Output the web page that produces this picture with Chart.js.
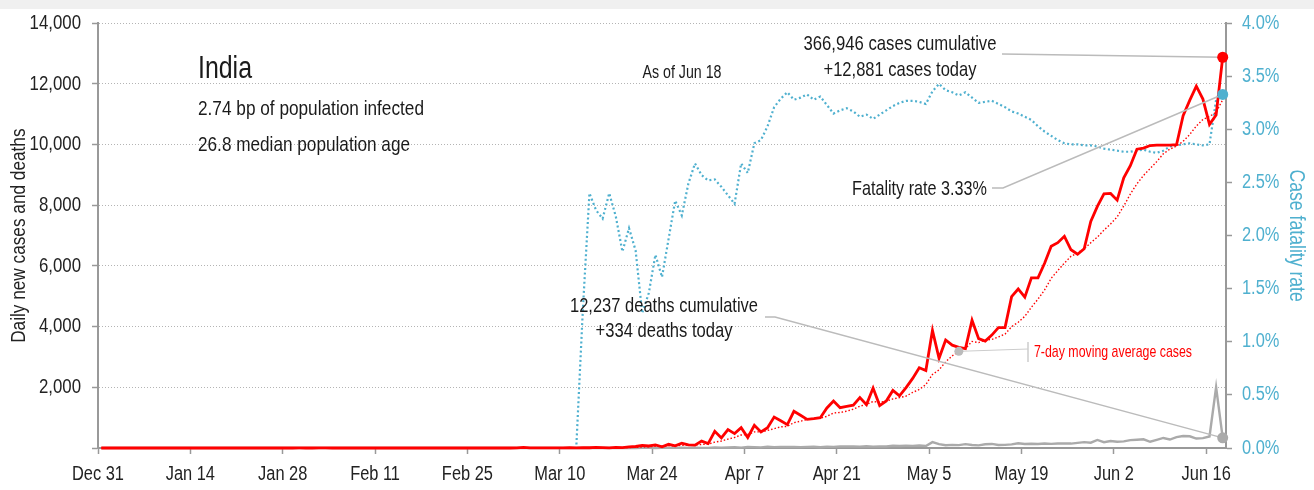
<!DOCTYPE html>
<html>
<head>
<meta charset="utf-8">
<script src="https://cdn.jsdelivr.net/npm/chart.js@4"></script>
<style>
  html, body { margin: 0; padding: 0; background: #fff; }
  #wrap { width: 1314px; height: 490px; }
</style>
</head>
<body>
<div id="wrap"><canvas id="chart" width="1314" height="490"></canvas></div>
<script>
// one value per day, starting Dec 31
const tickLabels = ["Dec 31", "Jan 14", "Jan 28", "Feb 11", "Feb 25", "Mar 10", "Mar 24",
  "Apr 7", "Apr 21", "May 5", "May 19", "Jun 2", "Jun 16"];

const cases = [
  0,
  0,0,0,0,0,0,0,0,0,0, 0,0,0,0,0,0,0,0,0,0, 0,0,0,0,0,0,0,0,0,1, 0,
  0,1,1,0,0,0,0,0,0,0, 0,0,0,0,0,0,0,0,0,0, 0,0,0,0,0,0,0,0,0,
  0,0,3,22,1,2,1,3,5,4, 13,6,11,9,20,11,6,23,14,38, 50,86,66,103,37,121,70,160,100,92, 227,
  146,550,330,605,475,670,345,750,530,670, 1020,900,770,1210,1080,945,970,1000,1320,1550,
  1330,1370,1410,1660,1430,1975,1400,1550,1897,1718,
  1993,2293,2644,2553,3875,2958,3561,3390,3320,3277, 4213,3604,3525,3722,3967,3970,4987,5242,4970,5611,
  5609,6088,6654,6767,6977,6535,6387,6566,7466,7964, 8380,
  8392,8171,8909,9304,9851,9887,9971,9983,9987,9985, 9996,10956,11458,11929,11502,10667,10974,12881
];

const casesAvg = [
  0,
  0,0,0,0,0,0,0,0,0,0, 0,0,0,0,0,0,0,0,0,0, 0,0,0,0,0,0,0,0,0,0.1, 0.1,
  0.1,0.3,0.4,0.4,0.4,0.3,0.3,0.3,0.1,0, 0,0,0,0,0,0,0,0,0,0, 0,0,0,0,0,0,0,0,0,
  0,0,0.4,3.6,3.7,4,4.1,4.6,5.3,5.4, 4.1,4.9,6.1,7.3,9.7,10.6,10.9,12.3,13.4,17.3,
  23.1,32.6,40.4,54.3,56.3,71.6,76.1,91.9,93.9,97.6, 115.3,
  130.9,192.1,229.3,292.9,346.4,429,445.9,532.1,529.3,577.9, 637.1,697.9,712.1,835.7,882.9,942.1,985,982.1,1042.1,1153.6,
  1170.7,1212.1,1278.6,1377.1,1438.6,1532.1,1510.7,1542.1,1617.4,1661.4,
  1709,1832.3,1927.9,2092.6,2424.7,2576.3,2839.6,3039.1,3185.9,3276.3, 3513.4,3474.7,3555.7,3578.7,3661.1,3754,3998.3,4145.3,4340.4,4638.4,
  4908,5211,5594.4,5848.7,6096.6,6320.1,6431,6567.7,6764.6,6951.7, 7182.1,
  7384.3,7618,7978.3,8369.4,8710.1,8984.9,9212.1,9439.4,9698.9,9852.6, 9951.4,10109.3,10333.7,10613.4,10830.4,10927.6,11068.9,11481
];

const deaths = [
  0,
  0,0,0,0,0,0,0,0,0,0, 0,0,0,0,0,0,0,0,0,0, 0,0,0,0,0,0,0,0,0,0, 0,
  0,0,0,0,0,0,0,0,0,0, 0,0,0,0,0,0,0,0,0,0, 0,0,0,0,0,0,0,0,0,
  0,0,0,0,0,0,0,0,0,0, 0,0,1,1,0,0,1,0,1,1, 0,3,3,1,3,4,4,6,4,7, 3,
  3,18,12,17,23,13,32,28,20,40, 29,35,35,31,29,38,43,23,43,36, 50,47,51,44,57,47,55,51,72,66,
  73,71,83,68,194,126,89,104,95,128, 97,87,122,134,100,103,120,157,134,140,
  132,148,137,147,154,146,170,194,175,265, 193,
  230,204,217,260,273,287,206,266,331,279, 357,396,386,311,325,380,2003,334
];

const fatality = [
  0,
  0,0,0,0,0,0,0,0,0,0, 0,0,0,0,0,0,0,0,0,0, 0,0,0,0,0,0,0,0,0,0, 0,
  0,0,0,0,0,0,0,0,0,0, 0,0,0,0,0,0,0,0,0,0, 0,0,0,0,0,0,0,0,0,
  0,0,0,0,0,0,0,0,0,0, 0,0,1.30,2.40,2.24,2.16,2.40,2.18,1.85,2.07,
  1.86,1.27,1.46,1.82,1.61,1.97,2.33,2.19,2.49,2.68, 2.57,
  2.52,2.53,2.46,2.38,2.30,2.68,2.59,2.87,2.90,3.03, 3.21,3.29,3.35,3.28,3.30,3.33,3.28,3.31,3.23,3.15,
  3.18,3.20,3.17,3.12,3.14,3.10,3.14,3.18,3.22,3.25,
  3.27,3.27,3.26,3.24,3.36,3.43,3.37,3.35,3.32,3.35, 3.30,3.25,3.26,3.27,3.24,3.21,3.17,3.15,3.12,3.09,
  3.03,2.98,2.94,2.90,2.87,2.86,2.86,2.85,2.85,2.84, 2.82,
  2.81,2.80,2.79,2.79,2.80,2.81,2.79,2.78,2.80,2.84, 2.85,2.86,2.87,2.86,2.85,2.86,3.28,3.33
];

const avgNoteDay = 130; // where the moving average label points

// no narrow font installed: use Arial metrics and squeeze text to ~Arial Narrow width
const FONT = "'Liberation Sans', Arial, sans-serif";
const SQUEEZE = 0.82;
const RED = "#ff0000";
const BLUE = "#4fb0cf";
const GREY = "#aaaaaa";
const AXIS = "#999999";
const last = cases.length - 1;

const xy = arr => arr.map((v, i) => ({ x: i, y: v }));

const narrowText = {
  id: "narrowText",
  beforeInit(chart) {
    const ctx = chart.ctx;
    const orig = ctx.fillText;
    ctx.fillText = function (t, x, y, mw) {
      this.save();
      this.translate(x, y);
      this.scale(SQUEEZE, 1);
      if (mw === undefined) orig.call(this, t, 0, 0);
      else orig.call(this, t, 0, 0, mw / SQUEEZE);
      this.restore();
    };
  }
};

const notes = {
  id: "notes",
  beforeDraw(chart) {
    const ctx = chart.ctx;
    ctx.save();
    ctx.fillStyle = "#f0f0f0";
    ctx.fillRect(0, 0, chart.width, 9);
    ctx.restore();
  },
  afterDatasetsDraw(chart) {
    const ctx = chart.ctx;
    const pCase = chart.getDatasetMeta(0).data[last];
    const pAvg = chart.getDatasetMeta(1).data[avgNoteDay];
    const pDeath = chart.getDatasetMeta(2).data[last];
    const pRate = chart.getDatasetMeta(3).data[last];

    ctx.save();
    // leader lines
    ctx.strokeStyle = "#bbbbbb";
    ctx.lineWidth = 1.5;
    ctx.beginPath();
    ctx.moveTo(1002, 54); ctx.lineTo(pCase.x, pCase.y);
    ctx.moveTo(992, 188); ctx.lineTo(1003, 188); ctx.lineTo(pRate.x, pRate.y);
    ctx.moveTo(765, 317); ctx.lineTo(775, 317); ctx.lineTo(pDeath.x, pDeath.y);
    ctx.stroke();
    ctx.strokeStyle = "#cccccc";
    ctx.lineWidth = 1;
    ctx.beginPath();
    ctx.moveTo(pAvg.x, pAvg.y); ctx.lineTo(1028, 349);
    ctx.stroke();
    ctx.lineWidth = 1.5;
    ctx.beginPath();
    ctx.moveTo(1028, 342); ctx.lineTo(1028, 362);
    ctx.stroke();

    // end dots
    const dot = (p, r, c) => {
      ctx.fillStyle = c;
      ctx.beginPath();
      ctx.arc(p.x, p.y, r, 0, Math.PI * 2);
      ctx.fill();
    };
    dot(pAvg, 4.5, "#bbbbbb");
    dot(pDeath, 5.5, GREY);
    dot(pRate, 5.5, BLUE);
    dot(pCase, 5.5, RED);

    // texts
    ctx.fillStyle = "#1a1a1a";
    ctx.textBaseline = "alphabetic";
    ctx.textAlign = "left";
    ctx.font = "31px " + FONT;
    ctx.fillText("India", 198, 78, 54);
    ctx.font = "21px " + FONT;
    ctx.fillText("2.74 bp of population infected", 198, 115, 229);
    ctx.fillText("26.8 median population age", 198, 151, 212);

    ctx.textAlign = "center";
    ctx.font = "18px " + FONT;
    ctx.fillText("As of Jun 18", 682, 78, 79);
    ctx.font = "21px " + FONT;
    ctx.fillText("366,946 cases cumulative", 900, 50, 193);
    ctx.fillText("+12,881 cases today", 900, 76, 153);
    ctx.fillText("12,237 deaths cumulative", 664, 312, 188);
    ctx.fillText("+334 deaths today", 664, 337, 137);

    ctx.textAlign = "right";
    ctx.fillText("Fatality rate 3.33%", 987, 195, 135);

    ctx.textAlign = "left";
    ctx.fillStyle = RED;
    ctx.font = "17px " + FONT;
    ctx.fillText("7-day moving average cases", 1034, 357, 158);
    ctx.restore();
  }
};

new Chart(document.getElementById("chart"), {
  type: "line",
  data: {
    datasets: [
      {
        label: "Daily new cases",
        data: xy(cases),
        yAxisID: "y",
        borderColor: RED,
        borderWidth: 2.8,
        pointRadius: 0,
        tension: 0,
      },
      {
        label: "7-day moving average cases",
        data: xy(casesAvg),
        yAxisID: "y",
        borderColor: RED,
        borderWidth: 1.4,
        borderDash: [1.5, 2],
        pointRadius: 0,
        tension: 0,
      },
      {
        label: "Daily deaths",
        data: xy(deaths),
        yAxisID: "y",
        borderColor: GREY,
        borderWidth: 2.4,
        pointRadius: 0,
        tension: 0,
      },
      {
        label: "Case fatality rate",
        data: xy(fatality),
        yAxisID: "y1",
        borderColor: BLUE,
        borderWidth: 2.2,
        borderDash: [2, 2.6],
        pointRadius: 0,
        tension: 0,
      },
    ],
  },
  options: {
    responsive: false,
    devicePixelRatio: 1,
    animation: false,
    clip: false,
    layout: { padding: { top: 23, left: 0, right: 0, bottom: 0 } },
    plugins: {
      legend: { display: false },
      tooltip: { enabled: false },
    },
    scales: {
      x: {
        type: "linear",
        min: -0.5,
        max: 170.5,
        afterBuildTicks: (s) => {
          s.ticks = tickLabels.map((t, i) => ({ value: -0.5 + i * 14 }));
        },
        afterFit: (s) => { s.height = 42; },
        ticks: {
          callback: (v, i) => tickLabels[i],
          font: { family: FONT, size: 20 },
          color: "#222",
          padding: 8,
          maxRotation: 0,
          autoSkip: false,
        },
        grid: {
          drawOnChartArea: false,
          tickLength: 6,
          tickColor: AXIS,
          tickWidth: 1.5,
        },
        border: { color: AXIS, width: 2 },
      },
      y: {
        position: "left",
        min: 0,
        max: 14000,
        afterFit: (s) => { s.width = 98; },
        ticks: {
          stepSize: 2000,
          callback: (v) => (v === 0 ? "" : v.toLocaleString("en-US")),
          font: { family: FONT, size: 20.5 },
          color: "#222",
          padding: 11,
        },
        grid: {
          color: (c) => (c.tick.value === 0 ? "rgba(0,0,0,0)" : "#b4b4b4"),
          lineWidth: 1,
          tickLength: 6,
          tickColor: AXIS,
          tickWidth: 1.5,
          tickBorderDash: [],
        },
        border: { color: AXIS, width: 2, dash: [1, 2] },
        title: {
          display: true,
          text: "Daily new cases and deaths",
          font: { family: FONT, size: 21 },
          color: "#222",
          padding: { top: 7, bottom: 0 },
        },
      },
      y1: {
        position: "right",
        min: 0,
        max: 4,
        afterFit: (s) => { s.width = 88; },
        ticks: {
          stepSize: 0.5,
          callback: (v) => v.toFixed(1) + "%",
          font: { family: FONT, size: 20 },
          color: BLUE,
          padding: 10,
        },
        grid: {
          drawOnChartArea: false,
          tickLength: 6,
          tickColor: AXIS,
          tickWidth: 1.5,
        },
        border: { color: AXIS, width: 2 },
        title: {
          display: true,
          text: "Case fatality rate",
          font: { family: FONT, size: 21.5 },
          color: BLUE,
          padding: { top: 5, bottom: 0 },
        },
      },
    },
  },
  plugins: [narrowText, notes],
});
</script>
</body>
</html>
